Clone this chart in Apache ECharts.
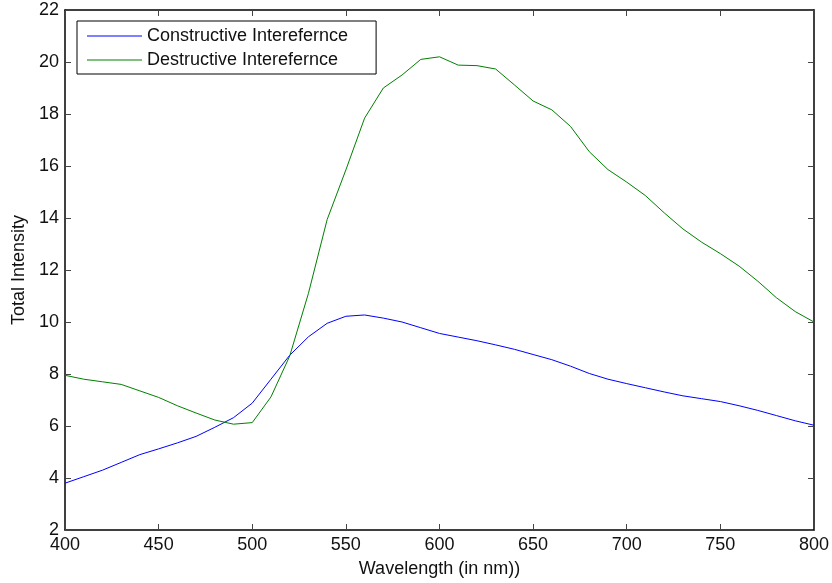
<!DOCTYPE html>
<html><head><meta charset="utf-8">
<script src="https://cdn.jsdelivr.net/npm/echarts@6/dist/echarts.min.js"></script>
<style>html,body{margin:0;padding:0;background:#fff}#c{width:832px;height:583px}</style>
</head><body><div id="c"></div>
<script>
const wavelengths = [400,410,420,430,440,450,460,470,480,490,500,510,520,530,540,550,560,570,580,590,600,610,620,630,640,650,660,670,680,690,700,710,720,730,740,750,760,770,780,790,800];
const constructive = [3.8,4.05,4.3,4.6,4.9,5.12,5.35,5.6,5.95,6.32,6.88,7.8,8.72,9.43,9.95,10.22,10.27,10.15,10.0,9.78,9.56,9.42,9.28,9.12,8.95,8.75,8.55,8.3,8.02,7.8,7.63,7.47,7.31,7.16,7.05,6.94,6.78,6.6,6.4,6.2,6.03];
const destructive = [7.95,7.8,7.7,7.6,7.35,7.1,6.78,6.5,6.23,6.07,6.13,7.12,8.69,11.1,13.94,15.85,17.84,19.0,19.5,20.1,20.2,19.88,19.86,19.73,19.12,18.5,18.16,17.52,16.55,15.86,15.38,14.86,14.2,13.58,13.07,12.63,12.15,11.57,10.93,10.4,10.0];
const xTicks = [400,450,500,550,600,650,700,750,800];
const yTicks = [2,4,6,8,10,12,14,16,18,20,22];
const seriesNames = ['Constructive Interefernce','Destructive Interefernce'];

const font = 'Liberation Sans, Arial, Helvetica, sans-serif';
const chart = echarts.init(document.getElementById('c'), null, {renderer:'canvas'});
const grid = {left:65, right:15, top:10, bottom:52};
const pair = (xs, ys) => xs.map((x,i)=>[x, ys[i]]);
const baseX = {type:'value', min:400, max:800, interval:50, gridIndex:0,
  splitLine:{show:false}, axisTick:{inside:true, length:6, lineStyle:{color:'#444'}},
  axisLine:{onZero:false, lineStyle:{color:'#000', width:1.5}}};
const baseY = {type:'value', min:2, max:22, interval:2, gridIndex:0,
  splitLine:{show:false}, axisTick:{inside:true, length:6, lineStyle:{color:'#444'}},
  axisLine:{onZero:false, show:true, lineStyle:{color:'#000', width:1.5}}};
const lineIcon = 'path://M0,0 L55,0 L55,1 L0,1 Z';
chart.setOption({
  animation:false,
  backgroundColor:'#fff',
  textStyle:{fontFamily:font},
  grid: grid,
  legend:{
    orient:'vertical', left:77, top:21,
    data: seriesNames.map(n => ({name:n, icon:lineIcon})),
    backgroundColor:'#fff', borderColor:'#000', borderWidth:1,
    padding:[6,28,5,10], itemGap:6, itemWidth:55, itemHeight:1,
    textStyle:{fontFamily:font, fontSize:18, color:'#111'}
  },
  xAxis:[
    Object.assign({}, baseX, {position:'bottom',
      name:'Wavelength (in nm))', nameLocation:'middle', nameGap:30,
      nameTextStyle:{fontFamily:font, fontSize:18, color:'#111'},
      axisLabel:{margin:6, fontSize:18, color:'#111', fontFamily:font,
        formatter: v => xTicks.includes(v) ? String(v) : ''}}),
    Object.assign({}, baseX, {position:'top', axisLabel:{show:false}})
  ],
  yAxis:[
    Object.assign({}, baseY, {position:'left',
      name:'Total Intensity', nameLocation:'middle', nameGap:36,
      nameTextStyle:{fontFamily:font, fontSize:18, color:'#111'},
      axisLabel:{margin:6, fontSize:18, color:'#111', fontFamily:font,
        formatter: v => yTicks.includes(v) ? String(v) : ''}}),
    Object.assign({}, baseY, {position:'right', axisLabel:{show:false}})
  ],
  series:[
    {name:seriesNames[0], type:'line', xAxisIndex:0, yAxisIndex:0, symbol:'none',
      data: pair(wavelengths, constructive), lineStyle:{color:'#0000ff', width:1}, itemStyle:{color:'#0000ff'}},
    {name:seriesNames[1], type:'line', xAxisIndex:0, yAxisIndex:0, symbol:'none',
      data: pair(wavelengths, destructive), lineStyle:{color:'#008000', width:1}, itemStyle:{color:'#008000'}}
  ]
});
</script></body></html>
